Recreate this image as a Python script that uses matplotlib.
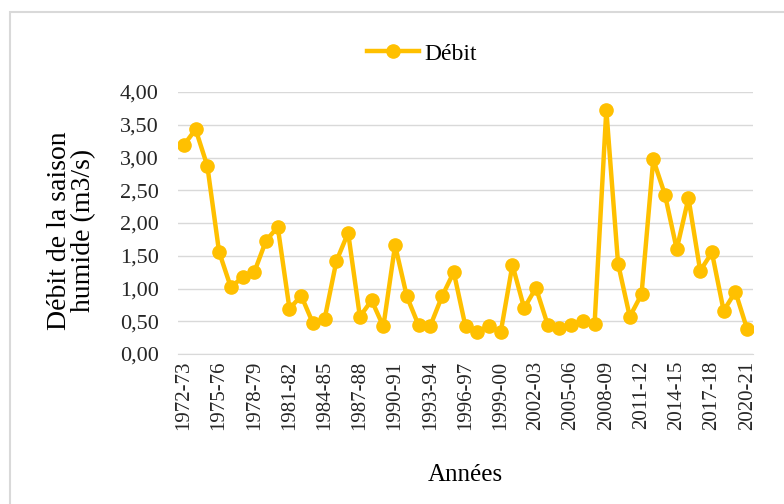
import numpy as np
import matplotlib.pyplot as plt
from matplotlib.patches import Rectangle
from matplotlib.ticker import FuncFormatter

plt.rcParams['font.family'] = ['Liberation Serif', 'DejaVu Serif']

# seasons 1972-73 .. 2020-21
annees = ['%d-%02d' % (y, (y + 1) % 100) for y in range(1972, 2021)]
debit = [3.19, 3.43, 2.87, 1.56, 1.02, 1.17, 1.25, 1.73, 1.94, 0.69,
         0.89, 0.47, 0.54, 1.42, 1.85, 0.57, 0.82, 0.42, 1.66, 0.88,
         0.44, 0.43, 0.88, 1.25, 0.42, 0.34, 0.43, 0.33, 1.36, 0.70,
         1.01, 0.45, 0.39, 0.45, 0.50, 0.46, 3.73, 1.38, 0.57, 0.91,
         2.97, 2.43, 1.60, 2.38, 1.27, 1.55, 0.66, 0.95, 0.38]

fig = plt.figure(figsize=(7.84, 5.04), dpi=100)
# outer chart border
fig.patches.append(Rectangle((10/784, -0.1), 1.0, 1 - 12/504 + 0.1,
                             transform=fig.transFigure, fill=False,
                             edgecolor='#d9d9d9', linewidth=1.5))

ax = fig.add_axes([178/784, 1 - 354/504, 575/784, 262/504])
x = np.arange(len(annees))
ax.plot(x, debit, color='#FFC000', linewidth=3.2, marker='o', markersize=9.5,
        label='Débit')

ax.set_xlim(-0.5, len(annees) - 0.5)
ax.set_ylim(0, 4)
ax.set_yticks(np.arange(0, 4.01, 0.5))
ax.yaxis.set_major_formatter(FuncFormatter(lambda v, p: ('%.2f' % v).replace('.', ',')))
ax.set_xticks(x[::3])
ax.set_xticklabels(annees[::3], rotation=90)
ax.tick_params(axis='both', length=0, colors='#262626')
ax.tick_params(axis='x', pad=5, labelsize=15)
ax.tick_params(axis='y', pad=14, labelsize=16)

ax.grid(axis='y', color='#d9d9d9', linewidth=1)
ax.set_axisbelow(True)
for s in ['top', 'right', 'left']:
    ax.spines[s].set_visible(False)
ax.spines['bottom'].set_color('#d9d9d9')

ax.set_ylabel('Débit de la saison\nhumide (m3/s)', fontsize=20,
              linespacing=0.95, va='center')
ax.yaxis.set_label_coords(-0.185, 0.47)
ax.set_xlabel('Années', fontsize=18)
ax.xaxis.set_label_coords(0.5, -0.42)

fig.legend(*ax.get_legend_handles_labels(), loc='center',
           bbox_to_anchor=(422 / 784, 1 - 54 / 504), frameon=False,
           fontsize=17, handlelength=2.2, handletextpad=0.25)

fig.savefig('out.png', dpi=100)
